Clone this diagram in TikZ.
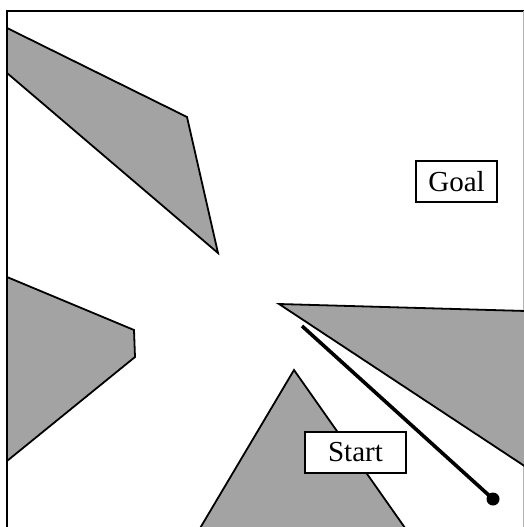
\documentclass[tikz,border=0pt]{standalone}
\usepackage{fontspec}
\setmainfont{Liberation Serif}
\begin{document}
\begin{tikzpicture}[x=1pt,y=-1pt,
  obstacle/.style={fill=black!36, draw=black, line width=1.8pt, line join=miter},
  label box/.style={draw=black, line width=1.3pt, fill=white, inner sep=0pt, font=\fontsize{29}{31}\selectfont},
  frame/.style={draw=black, line width=1.4pt}]
\useasboundingbox (0,0) rectangle (524,527);
% frame
\draw[frame] (524,11) -- (7,11) -- (7,527);
\draw[black!30, line width=0.6pt] (523,11) -- (523,527);
% obstacles
\draw[obstacle] (7,28) -- (187,117) -- (218,253) -- (7,73) -- cycle;
\draw[obstacle] (7,277) -- (134,330) -- (135,357) -- (7,461) -- cycle;
\draw[obstacle] (294,370) -- (410,535) -- (196,535) -- cycle;
\draw[obstacle] (279,304) -- (526,311) -- (526,467) -- cycle;
% path
\coordinate (pathstart) at (302,326);
\node[circle, fill=black, inner sep=0pt, minimum size=13pt] (startdot) at (493,499) {};
\draw[line width=3.6pt] (pathstart) -- (startdot.center);
% labels
\node[label box, minimum width=81pt, minimum height=41pt] (goal) at (456.5,181.5) {Goal};
\node[label box, minimum width=101pt, minimum height=41pt] (start) at (355.5,452.5) {Start};
\end{tikzpicture}
\end{document}
